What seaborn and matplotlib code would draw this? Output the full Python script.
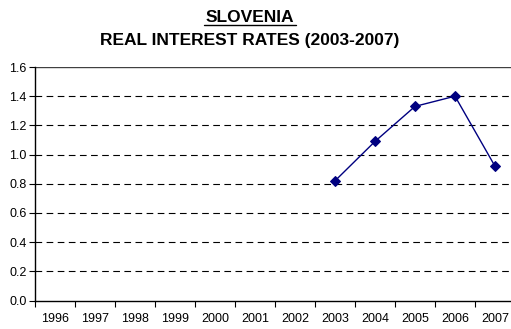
import matplotlib
matplotlib.use("Agg")
import matplotlib.pyplot as plt
import seaborn as sns
import pandas as pd
import numpy as np

years = ["1996", "1997", "1998", "1999", "2000", "2001", "2002", "2003", "2004", "2005", "2006", "2007"]
rate_years = ["2003", "2004", "2005", "2006", "2007"]
rates = [0.82, 1.09, 1.33, 1.40, 0.92]
yticks = [0.0, 0.2, 0.4, 0.6, 0.8, 1.0, 1.2, 1.4, 1.6]

sns.set_theme(style="white")
plt.rcParams['font.family'] = ['Liberation Sans', 'DejaVu Sans']
plt.rcParams['text.color'] = 'black'
plt.rcParams['xtick.color'] = 'black'
plt.rcParams['ytick.color'] = 'black'

fig = plt.figure(figsize=(5.11, 3.29), dpi=100)
W, H = 511, 329
ax = fig.add_axes([35 / W, 1 - 300.5 / H, 480 / W, 233.5 / H])

pos = {y: i for i, y in enumerate(years)}
df = pd.DataFrame({"x": [pos[y] for y in rate_years], "rate": rates})
sns.lineplot(data=df, x="x", y="rate", ax=ax, color="#000080", linewidth=1,
             marker="D", markersize=5, markeredgecolor="#000080", markerfacecolor="#000080")

ax.set_xlim(-0.5, len(years) - 0.5)
ax.set_ylim(0, 1.6)
ax.set_yticks(yticks)
ax.set_yticklabels([f"{v:.1f}" for v in yticks], fontsize=9)
ax.set_xticks(range(len(years)))
ax.set_xticklabels(years, fontsize=9)
ax.set_xticks(np.arange(-0.5, len(years), 1), minor=True)
ax.tick_params(axis="x", which="major", length=0, pad=9)
ax.tick_params(axis="x", which="minor", length=4, width=0.8, color="black", direction="out", bottom=True)
ax.tick_params(axis="y", length=4, width=0.8, color="black", direction="out", left=True, pad=2)
ax.set_xlabel("")
ax.set_ylabel("")

for v in yticks[1:-1]:
    ax.axhline(v, color="black", linestyle=(0, (6, 4)), linewidth=0.8, zorder=0)
ax.axhline(1.6, color="#404040", linewidth=1, zorder=0)

for s in ["left", "bottom"]:
    ax.spines[s].set_color("black")
    ax.spines[s].set_linewidth(1)
ax.spines["top"].set_visible(False)
ax.spines["right"].set_visible(False)

fig.text(250 / W, 1 - 17 / H, "SLOVENIA", ha="center", va="center", fontsize=12.5,
         fontweight="bold", color="black")
fig.text(250 / W, 1 - 40 / H, "REAL INTEREST RATES (2003-2007)", ha="center", va="center",
         fontsize=12.5, fontweight="bold", color="black")
fig.add_artist(plt.Line2D([204 / W, 296 / W], [1 - 25 / H, 1 - 25 / H], color="black", linewidth=1))

fig.savefig("out.png", dpi=100, facecolor="white")
